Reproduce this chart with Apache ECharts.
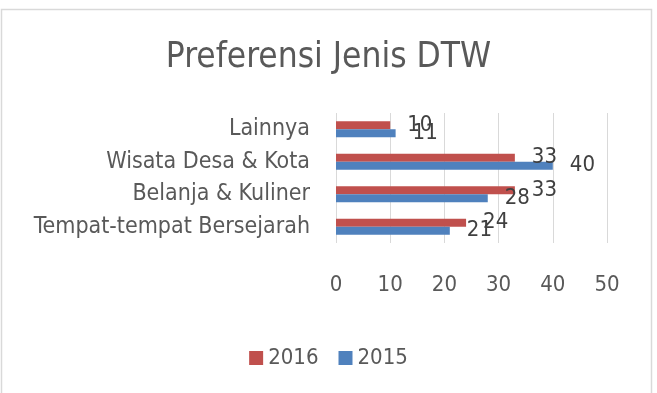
<!DOCTYPE html>
<html>
<head>
<meta charset="utf-8">
<style>
  html, body { margin: 0; padding: 0; background: #ffffff; }
  #chart-container { width: 657px; height: 393px; }
</style>
<script src="https://cdn.jsdelivr.net/npm/echarts@6/dist/echarts.min.js"></script>
</head>
<body>
<div id="chart-container"></div>
<script>
var categories = ["Tempat-tempat Bersejarah", "Belanja & Kuliner", "Wisata Desa & Kota", "Lainnya"];
var values2016 = [24, 33, 33, 10];
var values2015 = [21, 28, 40, 11];
var seriesNames = ["2016", "2015"];
var xTicks = [0, 10, 20, 30, 40, 50];

var dom = document.getElementById("chart-container");
var myChart = echarts.init(dom, null, { renderer: "canvas" });

var font = "'DejaVu Sans Condensed', 'DejaVu Sans', sans-serif";

var labelStyle = {
  show: true,
  position: "right",
  distance: 17,
  color: "#404040",
  fontSize: 22,
  fontFamily: font
};

var option = {
  animation: false,
  textStyle: { fontFamily: font },
  title: {
    text: "Preferensi Jenis DTW",
    left: "center",
    top: 35,
    textStyle: {
      color: "#595959",
      fontSize: 35,
      fontWeight: "normal",
      fontFamily: font
    }
  },
  graphic: [
    {
      type: "rect",
      shape: { x: 1.5, y: 9.5, width: 650, height: 400 },
      style: { fill: "none", stroke: "#d9d9d9", lineWidth: 1.5 },
      silent: true
    }
  ],
  legend: {
    data: seriesNames,
    left: "center",
    top: 342,
    itemWidth: 14,
    itemHeight: 14,
    itemGap: 20,
    icon: "rect",
    textStyle: { color: "#595959", fontSize: 22, fontFamily: font }
  },
  grid: {
    left: 336,
    right: 50,
    top: 113,
    bottom: 150
  },
  xAxis: {
    type: "value",
    min: xTicks[0],
    max: xTicks[xTicks.length - 1],
    interval: 10,
    axisLine: { show: false },
    axisTick: { show: false },
    axisLabel: { color: "#595959", fontSize: 22, margin: 31, fontFamily: font },
    splitLine: { show: true, lineStyle: { color: "#d9d9d9", width: 1 } }
  },
  yAxis: {
    type: "category",
    data: categories,
    axisLine: { show: false },
    axisTick: { show: false },
    axisLabel: { color: "#595959", fontSize: 23, margin: 26, fontFamily: font }
  },
  series: [
    {
      name: seriesNames[0],
      type: "bar",
      data: values2016,
      barWidth: 8,
      barGap: "0%",
      itemStyle: { color: "#C0504D" },
      label: labelStyle
    },
    {
      name: seriesNames[1],
      type: "bar",
      data: values2015,
      barWidth: 8,
      barGap: "0%",
      itemStyle: { color: "#4F81BD" },
      label: labelStyle
    }
  ]
};

myChart.setOption(option);
window.addEventListener("resize", myChart.resize);
</script>
</body>
</html>
